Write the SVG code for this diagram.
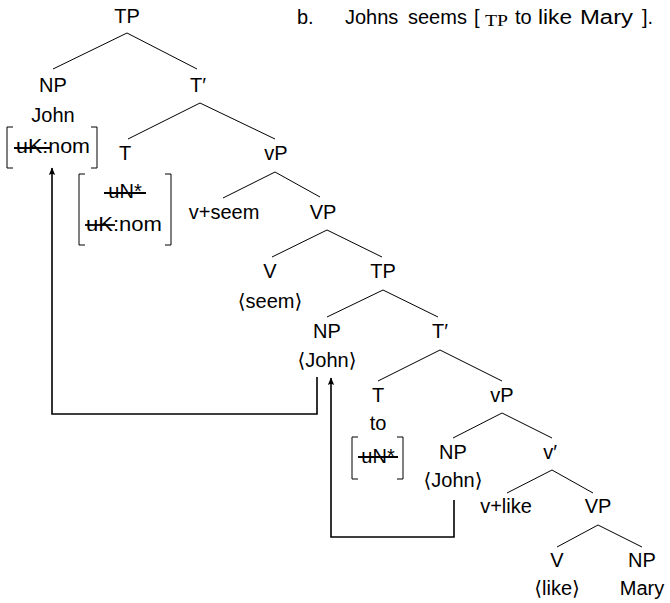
<svg xmlns="http://www.w3.org/2000/svg" width="670" height="603" viewBox="0 0 670 603">
<defs>
<style>
text{font-family:"Liberation Sans","DejaVu Sans",sans-serif;font-size:20px;fill:#000}
.c{text-anchor:middle}
.sub{font-size:16px;font-family:"Liberation Serif","DejaVu Serif",serif}
.e{stroke:#000;stroke-width:1;fill:none}
.br{stroke:#000;stroke-width:1;fill:none}
.st{stroke:#000;stroke-width:1.8}
.arr{stroke:#000;stroke-width:1.6;fill:none;marker-end:url(#ah)}
</style>
<marker id="ah" viewBox="-8 -4 9 8" refX="0" refY="0" markerWidth="9" markerHeight="8" markerUnits="userSpaceOnUse" orient="auto">
<path d="M0.5,0 L-7,-3.2 Q-5,0 -7,3.2 Z" fill="#000"/>
</marker>
</defs>
<rect width="670" height="603" fill="#fff"/>

<g id="sentence">
<text x="297" y="24">b.</text>
<text x="345" y="24">Johns</text>
<text x="408" y="24">seems</text>
<text x="474" y="24">[</text>
<text x="485" y="26" class="sub" textLength="23" lengthAdjust="spacingAndGlyphs">TP</text>
<text x="515" y="24">to</text>
<text x="538" y="24" textLength="34" lengthAdjust="spacingAndGlyphs">like</text>
<text x="580" y="24" textLength="53" lengthAdjust="spacingAndGlyphs">Mary</text>
<text x="642" y="24">].</text>
</g>

<g id="edges">
<path class="e" d="M53,69 L127,33 L197,69"/>
<path class="e" d="M128,139 L200,103 L275,139"/>
<path class="e" d="M223,198 L275,172 L320,197"/>
<path class="e" d="M272,257 L327,230 L382,257"/>
<path class="e" d="M327,317 L383,290 L438,317"/>
<path class="e" d="M378,381 L440,350 L502,381"/>
<path class="e" d="M453,438 L502,413 L552,438"/>
<path class="e" d="M507,493 L552,470 L593,493"/>
<path class="e" d="M557,547 L598,525 L642,547"/>
</g>

<g id="n-TP"><text class="c" x="127" y="23">TP</text></g>
<g id="n-NP"><text class="c" x="53" y="92">NP</text><text class="c" x="53" y="122">John</text>
<path class="br" d="M13,127 H7 V168 H13 M91,127 H97 V168 H91"/>
<text class="c" x="53" y="153" textLength="74" lengthAdjust="spacingAndGlyphs">uK:nom</text>
<line class="st" x1="14" y1="148" x2="50" y2="148"/>
</g>
<g id="n-T1"><text class="c" x="198" y="92">T′</text></g>
<g id="n-T"><text class="c" x="125" y="160">T</text>
<path class="br" d="M85,174 H79 V245 H85 M165,174 H171 V245 H165"/>
<text class="c" x="125" y="198">uN*</text>
<line class="st" x1="104" y1="193" x2="146" y2="193"/>
<text class="c" x="124" y="231" textLength="76" lengthAdjust="spacingAndGlyphs">uK:nom</text>
<line class="st" x1="85" y1="225" x2="115" y2="225"/>
</g>
<g id="n-vP"><text class="c" x="276" y="160">vP</text></g>
<g id="n-vseem"><text class="c" x="224" y="219">v+seem</text></g>
<g id="n-VP"><text class="c" x="323" y="219">VP</text></g>
<g id="n-V"><text class="c" x="270" y="278">V</text><text class="c" x="270" y="308">⟨seem⟩</text></g>
<g id="n-TP2"><text class="c" x="383" y="278">TP</text></g>
<g id="n-NP2"><text class="c" x="327" y="338">NP</text><text class="c" x="327" y="367">⟨John⟩</text></g>
<g id="n-T12"><text class="c" x="440" y="338">T′</text></g>
<g id="n-T2"><text class="c" x="378" y="402">T</text><text class="c" x="378" y="430">to</text>
<path class="br" d="M358,437 H352 V479 H358 M397,437 H403 V479 H397"/>
<text class="c" x="378" y="463">uN*</text>
<line class="st" x1="358" y1="457" x2="398" y2="457"/>
</g>
<g id="n-vP2"><text class="c" x="502" y="402">vP</text></g>
<g id="n-NP3"><text class="c" x="453" y="459">NP</text><text class="c" x="453" y="487">⟨John⟩</text></g>
<g id="n-v1"><text class="c" x="550" y="459">v′</text></g>
<g id="n-vlike"><text class="c" x="506" y="513">v+like</text></g>
<g id="n-VP2"><text class="c" x="598" y="513">VP</text></g>
<g id="n-V2"><text class="c" x="557" y="567">V</text><text class="c" x="557" y="595">⟨like⟩</text></g>
<g id="n-NP4"><text class="c" x="642" y="567">NP</text><text class="c" x="642" y="595">Mary</text></g>

<g id="arrows">
<path class="arr" d="M317,377 V414 H52 V168"/>
<path class="arr" d="M454,500 V537 H331 V378"/>
</g>
</svg>
